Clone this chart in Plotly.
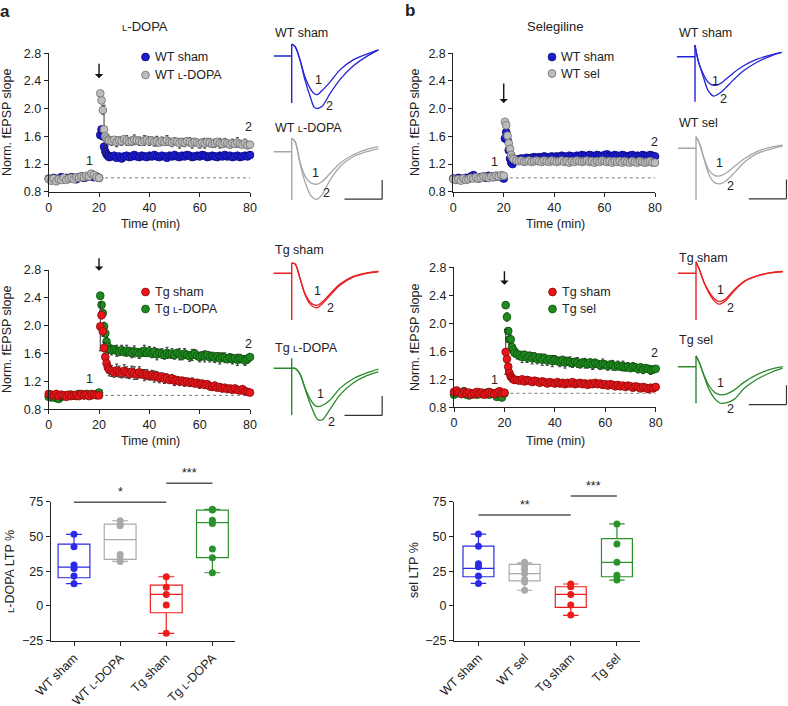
import plotly.graph_objects as go

W, H = 788, 706
FONT = "Liberation Sans, Arial, Helvetica, sans-serif"
TXT = "#222222"
LD = "<span style='font-size:9.5px'>L</span>-DOPA"

# ---------------- colours ----------------
BLUE = ("#1c1cd2", "#0a0a78")
GRAY = ("#bcbcbc", "#6f6f6f")
RED = ("#e8161b", "#8c0a0a")
GREEN = ("#1f8a1f", "#0b4f0b")
BOX_C = ["#2a2ae6", "#a9a9a9", "#ee1d1d", "#2a922a"]
TR_C = {"blue": "#2323d8", "gray": "#a6a6a6", "red": "#e82020", "green": "#2b8a2b"}

# ---------------- time-course data ----------------
T_BASE = list(range(0, 21))
T_POST = [20.5, 21, 21.5, 22, 22.5, 23, 23.5, 24] + list(range(25, 81))

# panel a, WT
A_WT_SHAM_BASE = [0.99, 0.98, 1.00, 0.97, 0.99, 1.01, 0.98, 1.00, 0.99, 1.01, 1.00,
                  0.98, 1.01, 1.02, 1.00, 1.01, 1.03, 1.02, 1.01, 1.02, 1.00]
A_WT_SHAM_POST = [1.62, 1.70, 1.60, 1.45, 1.38, 1.34, 1.32, 1.30,
                  1.31, 1.32, 1.29, 1.31, 1.28, 1.31, 1.32, 1.30,
                  1.31, 1.33, 1.31, 1.30, 1.32, 1.31, 1.30, 1.32,
                  1.31, 1.33, 1.31, 1.30, 1.32, 1.31, 1.29, 1.32,
                  1.31, 1.33, 1.31, 1.30, 1.32, 1.31, 1.33, 1.32,
                  1.30, 1.31, 1.32, 1.31, 1.33, 1.32, 1.30, 1.31,
                  1.32, 1.31, 1.30, 1.32, 1.31, 1.33, 1.31, 1.32,
                  1.30, 1.31, 1.32, 1.30, 1.31, 1.32, 1.31, 1.33]
A_WT_LD_BASE = [0.98, 0.96, 0.99, 0.95, 0.98, 0.97, 1.00, 0.97, 0.99, 1.00, 0.98,
                1.01, 1.00, 1.02, 1.01, 1.03, 1.02, 1.06, 1.04, 1.01, 1.00]
A_WT_LD_POST = [2.22, 2.12, 1.98, 1.70, 1.60, 1.57, 1.55, 1.54,
                1.53, 1.55, 1.52, 1.54, 1.53, 1.56, 1.54, 1.52,
                1.53, 1.55, 1.54, 1.53, 1.52, 1.54, 1.55, 1.53,
                1.54, 1.52, 1.53, 1.51, 1.53, 1.52, 1.54, 1.52,
                1.51, 1.53, 1.52, 1.50, 1.52, 1.51, 1.53, 1.52,
                1.50, 1.52, 1.51, 1.49, 1.51, 1.50, 1.52, 1.51,
                1.49, 1.50, 1.52, 1.50, 1.49, 1.51, 1.50, 1.48,
                1.50, 1.49, 1.51, 1.49, 1.48, 1.50, 1.47, 1.48]
A_WT_LD_ERR = [0.03, 0.05, 0.06, 0.35, 0.06, 0.05, 0.07, 0.06,
               0.06, 0.04, 0.07, 0.05, 0.06, 0.04, 0.07, 0.05,
               0.06, 0.07, 0.04, 0.06, 0.05, 0.07, 0.04, 0.06,
               0.05, 0.06, 0.07, 0.04, 0.06, 0.05, 0.07, 0.04,
               0.06, 0.05, 0.04, 0.07, 0.05, 0.06, 0.04, 0.06,
               0.07, 0.05, 0.04, 0.06, 0.05, 0.07, 0.04, 0.06,
               0.05, 0.06, 0.04, 0.07, 0.05, 0.06, 0.04, 0.05,
               0.06, 0.04, 0.07, 0.05, 0.04, 0.06, 0.05, 0.04]

# panel a, Tg
A_TG_SHAM_BASE = [1.02, 1.01, 1.00, 1.02, 0.99, 1.01, 1.00, 0.98, 1.01, 0.99, 1.00,
                  1.01, 0.99, 1.02, 1.00, 1.01, 0.99, 1.02, 1.01, 1.00, 1.00]
A_TG_SHAM_POST = [1.99, 2.15, 1.92, 1.68, 1.55, 1.46, 1.40, 1.37,
                  1.35, 1.33, 1.36, 1.34, 1.32, 1.35, 1.33, 1.31,
                  1.34, 1.32, 1.30, 1.33, 1.31, 1.29, 1.30, 1.28,
                  1.29, 1.27, 1.28, 1.25, 1.27, 1.24, 1.25, 1.22,
                  1.24, 1.21, 1.22, 1.20, 1.21, 1.19, 1.20, 1.18,
                  1.19, 1.17, 1.18, 1.16, 1.17, 1.15, 1.16, 1.13,
                  1.12, 1.14, 1.11, 1.12, 1.10, 1.11, 1.09, 1.10,
                  1.08, 1.10, 1.08, 1.07, 1.09, 1.06, 1.05, 1.04]
A_TG_SHAM_ERR = [0.35, 0.05, 0.07, 0.08, 0.09, 0.07, 0.08, 0.09,
                 0.08, 0.07, 0.09, 0.08, 0.07, 0.09, 0.08, 0.07,
                 0.08, 0.09, 0.07, 0.08, 0.06, 0.08, 0.07, 0.06,
                 0.07, 0.08, 0.06, 0.07, 0.05, 0.07, 0.06, 0.05,
                 0.06, 0.07, 0.05, 0.06, 0.05, 0.06, 0.04, 0.05,
                 0.06, 0.04, 0.05, 0.06, 0.04, 0.05, 0.04, 0.05,
                 0.04, 0.05, 0.04, 0.03, 0.05, 0.04, 0.03, 0.04,
                 0.05, 0.03, 0.04, 0.03, 0.04, 0.03, 0.04, 0.03]
A_TG_LD_BASE = [0.98, 0.97, 0.99, 0.96, 0.95, 0.98, 0.99, 1.00, 0.99, 1.01, 1.00,
                0.99, 1.02, 1.01, 1.00, 1.02, 1.01, 1.00, 1.01, 1.02, 1.04]
A_TG_LD_POST = [2.43, 2.30, 2.18, 1.99, 1.89, 1.77, 1.70, 1.66,
                1.65, 1.66, 1.64, 1.63, 1.65, 1.62, 1.64, 1.63,
                1.61, 1.63, 1.62, 1.60, 1.62, 1.64, 1.61, 1.63,
                1.60, 1.62, 1.59, 1.61, 1.60, 1.58, 1.61, 1.59,
                1.60, 1.58, 1.61, 1.59, 1.57, 1.60, 1.58, 1.56,
                1.58, 1.60, 1.57, 1.55, 1.57, 1.56, 1.58, 1.55,
                1.56, 1.54, 1.56, 1.53, 1.55, 1.54, 1.52, 1.54,
                1.52, 1.53, 1.51, 1.53, 1.52, 1.50, 1.52, 1.55]
A_TG_LD_ERR = [0.05, 0.04, 0.05, 0.06, 0.05, 0.06, 0.07, 0.06,
               0.07, 0.05, 0.08, 0.06, 0.07, 0.05, 0.08, 0.06,
               0.07, 0.08, 0.05, 0.07, 0.06, 0.08, 0.05, 0.07,
               0.06, 0.07, 0.08, 0.05, 0.07, 0.06, 0.08, 0.05,
               0.07, 0.06, 0.05, 0.08, 0.06, 0.07, 0.05, 0.07,
               0.08, 0.06, 0.05, 0.07, 0.06, 0.08, 0.05, 0.07,
               0.06, 0.07, 0.05, 0.08, 0.06, 0.07, 0.05, 0.06,
               0.07, 0.05, 0.08, 0.06, 0.05, 0.07, 0.06, 0.05]

# panel b, WT
B_WT_SHAM_BASE = [0.99, 0.98, 1.00, 0.98, 0.99, 1.00, 0.99, 1.02, 1.04, 1.00, 0.99,
                  1.01, 1.02, 1.00, 1.03, 1.02, 1.01, 1.03, 1.02, 1.01, 0.99]
B_WT_SHAM_POST = [1.57, 1.66, 1.55, 1.40, 1.28, 1.22, 1.20, 1.24,
                  1.26, 1.27, 1.28, 1.27, 1.29, 1.28, 1.29, 1.30,
                  1.29, 1.30, 1.29, 1.31, 1.30, 1.29, 1.31, 1.30,
                  1.31, 1.30, 1.32, 1.31, 1.30, 1.32, 1.31, 1.30,
                  1.32, 1.31, 1.33, 1.32, 1.31, 1.33, 1.32, 1.31,
                  1.33, 1.32, 1.31, 1.33, 1.34, 1.32, 1.31, 1.33,
                  1.32, 1.31, 1.33, 1.32, 1.31, 1.32, 1.33, 1.31,
                  1.32, 1.31, 1.33, 1.32, 1.31, 1.33, 1.32, 1.31]
B_WT_SEL_BASE = [0.98, 0.97, 0.98, 0.96, 0.99, 0.97, 0.98, 1.00, 0.99, 1.01, 0.99,
                 1.00, 1.02, 1.01, 1.00, 1.02, 1.01, 1.03, 1.02, 1.04, 1.03]
B_WT_SEL_POST = [1.81, 1.76, 1.61, 1.50, 1.42, 1.33, 1.29, 1.27,
                 1.25, 1.24, 1.25, 1.23, 1.24, 1.25, 1.23, 1.24,
                 1.25, 1.24, 1.23, 1.25, 1.24, 1.23, 1.25, 1.24,
                 1.23, 1.24, 1.25, 1.23, 1.24, 1.22, 1.24, 1.23,
                 1.25, 1.24, 1.23, 1.24, 1.25, 1.23, 1.24, 1.22,
                 1.24, 1.23, 1.25, 1.24, 1.23, 1.24, 1.22, 1.24,
                 1.23, 1.24, 1.22, 1.24, 1.23, 1.22, 1.24, 1.23,
                 1.22, 1.24, 1.23, 1.22, 1.23, 1.24, 1.22, 1.22]

# panel b, Tg
B_TG_SHAM_BASE = [1.02, 1.04, 1.01, 0.99, 1.02, 1.00, 1.01, 0.98, 1.00, 1.02, 0.99,
                  1.01, 0.98, 1.00, 1.02, 1.00, 0.99, 1.01, 1.03, 1.00, 1.01]
B_TG_SHAM_POST = [1.59, 1.49, 1.38, 1.29, 1.24, 1.22, 1.20, 1.19,
                  1.19, 1.18, 1.20, 1.17, 1.19, 1.18, 1.16, 1.18,
                  1.17, 1.15, 1.17, 1.16, 1.14, 1.16, 1.15, 1.14,
                  1.16, 1.14, 1.15, 1.13, 1.15, 1.14, 1.16, 1.13,
                  1.14, 1.15, 1.13, 1.14, 1.12, 1.14, 1.13, 1.15,
                  1.13, 1.14, 1.12, 1.13, 1.11, 1.13, 1.12, 1.10,
                  1.12, 1.10, 1.11, 1.09, 1.11, 1.10, 1.08, 1.10,
                  1.09, 1.07, 1.09, 1.08, 1.06, 1.08, 1.07, 1.09]
B_TG_SHAM_ERR = [0.32, 0.04, 0.03, 0.04, 0.03, 0.04, 0.03, 0.04,
                 0.03, 0.04, 0.03, 0.03, 0.04, 0.03, 0.03, 0.04,
                 0.04, 0.03, 0.04, 0.03, 0.03, 0.04, 0.03, 0.03,
                 0.03, 0.04, 0.03, 0.04, 0.03, 0.03, 0.04, 0.03,
                 0.04, 0.03, 0.03, 0.04, 0.03, 0.04, 0.03, 0.03,
                 0.03, 0.04, 0.03, 0.03, 0.04, 0.03, 0.03, 0.04,
                 0.04, 0.03, 0.04, 0.03, 0.03, 0.04, 0.03, 0.03,
                 0.03, 0.04, 0.03, 0.03, 0.04, 0.03, 0.04, 0.03]
B_TG_SEL_BASE = [0.98, 1.00, 1.01, 0.99, 1.03, 0.98, 0.97, 0.99, 1.00, 0.98, 1.01,
                 0.99, 1.00, 1.01, 0.98, 1.00, 0.99, 0.95, 0.98, 0.94, 1.00]
B_TG_SEL_POST = [2.26, 2.09, 1.89, 1.77, 1.77, 1.66, 1.62, 1.58,
                 1.56, 1.54, 1.52, 1.55, 1.51, 1.53, 1.50, 1.52,
                 1.49, 1.51, 1.48, 1.50, 1.47, 1.49, 1.46, 1.48,
                 1.46, 1.45, 1.47, 1.44, 1.46, 1.45, 1.43, 1.45,
                 1.44, 1.42, 1.44, 1.43, 1.42, 1.44, 1.41, 1.43,
                 1.42, 1.40, 1.42, 1.41, 1.39, 1.41, 1.40, 1.38,
                 1.40, 1.38, 1.39, 1.37, 1.38, 1.36, 1.38, 1.37,
                 1.35, 1.37, 1.34, 1.36, 1.35, 1.33, 1.34, 1.35]
B_TG_SEL_ERR = [0.05, 0.06, 0.05, 0.07, 0.06, 0.08, 0.07, 0.06,
                0.07, 0.06, 0.08, 0.05, 0.07, 0.06, 0.08, 0.06,
                0.07, 0.05, 0.08, 0.06, 0.07, 0.05, 0.08, 0.06,
                0.05, 0.07, 0.06, 0.08, 0.05, 0.07, 0.06, 0.05,
                0.07, 0.06, 0.05, 0.07, 0.06, 0.05, 0.07, 0.06,
                0.05, 0.06, 0.07, 0.05, 0.06, 0.05, 0.07, 0.05,
                0.06, 0.05, 0.07, 0.05, 0.06, 0.05, 0.06, 0.05,
                0.06, 0.05, 0.06, 0.04, 0.05, 0.06, 0.05, 0.04]

TIME_TICKS = [0, 20, 40, 60, 80]
SLOPE_TICKS = [0.8, 1.2, 1.6, 2.0, 2.4, 2.8]
SLOPE_LABELS = ["0.8", "1.2", "1.6", "2.0", "2.4", "2.8"]

# ---------------- box-plot data ----------------
LD_CATS = ["WT sham", "WT " + LD, "Tg sham", "Tg " + LD]
LD_Q1 = [20.3, 33.5, -4.9, 34.7]
LD_MED = [28.0, 47.7, 8.3, 60.0]
LD_Q3 = [44.5, 58.9, 15.0, 69.0]
LD_LO = [16.0, 32.0, -19.7, 23.9]
LD_HI = [51.5, 61.3, 21.0, 69.5]
LD_PTS = [[51.5, 42.6, 29.4, 27.0, 21.5, 16.0],
          [61.3, 59.0, 57.7, 37.0, 34.0, 32.0],
          [21.0, 13.4, 8.3, 0.7, -19.7],
          [69.5, 69.0, 61.6, 59.4, 41.0, 34.7, 23.9]]

SEL_CATS = ["WT sham", "WT sel", "Tg sham", "Tg sel"]
SEL_Q1 = [21.0, 18.0, -1.0, 21.0]
SEL_MED = [27.0, 23.3, 8.3, 31.4]
SEL_Q3 = [43.0, 29.9, 13.8, 48.4]
SEL_LO = [16.2, 11.3, -6.8, 18.6]
SEL_HI = [51.7, 31.0, 15.8, 59.0]
SEL_PTS = [[51.7, 43.0, 30.3, 28.2, 21.5, 16.2],
           [31.5, 29.3, 26.4, 23.3, 19.0, 17.3, 11.3],
           [15.8, 13.8, 8.3, 0.7, -6.5],
           [59.0, 44.5, 31.4, 22.0, 18.6]]
LTP_TICKS = [-25, 0, 25, 50, 75]

# ---------------- example fEPSP traces (ms, mV) ----------------
TR_T = [0, 0.9, 2.2, 3.5, 4.9, 6.0, 6.8, 8.0, 10.2, 12.8, 16.3, 19.9, 23.0]
TR_BASE_T = [-4.8, 0, 0, 0]

TR_A_WT_SHAM_ART = [-1.22, 0.31]
TR_A_WT_SHAM_1 = [0.31, 0.24, -0.10, -0.54, -0.84, -0.98, -1.00, -0.90, -0.67, -0.36, -0.10, 0.05, 0.16]
TR_A_WT_SHAM_2 = [0.31, 0.24, -0.10, -0.62, -1.05, -1.33, -1.36, -1.31, -0.97, -0.61, -0.26, -0.01, 0.16]
TR_A_WT_LD_ART = [-1.25, 0.35]
TR_A_WT_LD_1 = [0.35, 0.26, -0.27, -0.62, -0.80, -0.84, -0.84, -0.78, -0.56, -0.30, -0.08, 0.06, 0.13]
TR_A_WT_LD_2 = [0.35, 0.26, -0.30, -0.77, -1.11, -1.22, -1.23, -1.12, -0.73, -0.39, -0.13, 0.00, 0.08]
TR_A_TG_SHAM_ART = [-1.21, 0.27]
TR_A_TG_SHAM_1 = [0.27, 0.24, -0.13, -0.52, -0.75, -0.82, -0.83, -0.75, -0.53, -0.28, -0.08, 0.01, 0.05]
TR_A_TG_SHAM_2 = [0.27, 0.24, -0.13, -0.54, -0.80, -0.88, -0.89, -0.80, -0.57, -0.31, -0.10, 0.00, 0.04]
TR_A_TG_LD_ART = [-1.21, 0.26]
TR_A_TG_LD_1 = [0.0, 0.0, -0.15, -0.50, -0.80, -0.95, -0.99, -0.97, -0.82, -0.52, -0.27, -0.12, -0.02]
TR_A_TG_LD_2 = [0.0, 0.0, -0.15, -0.52, -0.92, -1.18, -1.32, -1.34, -1.06, -0.69, -0.38, -0.19, -0.09]

TR_B_WT_SHAM_ART = [-1.17, 0.30]
TR_B_WT_SHAM_1 = [0.30, -0.12, -0.45, -0.66, -0.74, -0.73, -0.69, -0.60, -0.42, -0.24, -0.07, 0.04, 0.11]
TR_B_WT_SHAM_2 = [0.30, -0.12, -0.52, -0.88, -1.02, -0.98, -0.93, -0.82, -0.60, -0.37, -0.15, 0.01, 0.11]
TR_B_WT_SEL_ART = [-1.34, 0.30]
TR_B_WT_SEL_1 = [0.30, 0.13, -0.28, -0.58, -0.70, -0.72, -0.70, -0.64, -0.47, -0.27, -0.08, 0.03, 0.08]
TR_B_WT_SEL_2 = [0.30, 0.13, -0.30, -0.69, -0.89, -0.92, -0.91, -0.84, -0.63, -0.36, -0.13, -0.02, 0.06]
TR_B_TG_SHAM_ART = [-1.21, 0.30]
TR_B_TG_SHAM_1 = [0.30, 0.10, -0.25, -0.48, -0.66, -0.73, -0.72, -0.65, -0.42, -0.20, -0.06, 0.02, 0.05]
TR_B_TG_SHAM_2 = [0.30, 0.10, -0.26, -0.52, -0.72, -0.80, -0.78, -0.70, -0.45, -0.22, -0.07, 0.01, 0.04]
TR_B_TG_SEL_ART = [-0.95, 0.28]
TR_B_TG_SEL_1 = [0.28, 0.10, -0.24, -0.50, -0.66, -0.72, -0.73, -0.71, -0.60, -0.40, -0.20, -0.06, 0.00]
TR_B_TG_SEL_2 = [0.28, 0.10, -0.26, -0.60, -0.82, -0.92, -0.95, -0.94, -0.84, -0.56, -0.32, -0.15, -0.04]

SCALE_MS, SCALE_MV = 10, 0.5

for lst in [A_WT_SHAM_POST, A_WT_LD_POST, A_WT_LD_ERR, A_TG_SHAM_POST, A_TG_SHAM_ERR,
            A_TG_LD_POST, A_TG_LD_ERR, B_WT_SHAM_POST, B_WT_SEL_POST, B_TG_SHAM_POST,
            B_TG_SHAM_ERR, B_TG_SEL_POST, B_TG_SEL_ERR]:
    assert len(lst) == len(T_POST), len(lst)

# =====================================================================
fig = go.Figure()
fig.update_layout(template="none")
annotations, shapes = [], []


def sfx(n):
    return "" if n == 1 else str(n)


def P(xpx, ypx):
    return xpx / W, 1 - ypx / H


def label(t, xpx, ypx, size=12.5, xanchor="center", yanchor="middle", angle=0, bold=False):
    x, y = P(xpx, ypx)
    annotations.append(dict(text=f"<b>{t}</b>" if bold else t, x=x, y=y, xref="paper", yref="paper",
                            showarrow=False, xanchor=xanchor, yanchor=yanchor, textangle=angle,
                            font=dict(size=size, color=TXT, family=FONT)))


def set_axes(n, box, xa, ya):
    x0, x1, y0, y1 = box
    xa.update(domain=[x0 / W, x1 / W], anchor="y" + sfx(n), automargin=False)
    ya.update(domain=[1 - y1 / H, 1 - y0 / H], anchor="x" + sfx(n), automargin=False)
    fig.update_layout({"xaxis" + sfx(n): xa, "yaxis" + sfx(n): ya})


AX_STYLE = dict(showline=True, linecolor="#222", linewidth=1, ticks="outside", ticklen=4,
                tickcolor="#222", tickwidth=1, showgrid=False, zeroline=False,
                tickfont=dict(size=12.5, color=TXT, family=FONT), fixedrange=True)

# ---------------- time-course panels ----------------
TIME_PANELS = [
    dict(n=1, box=(48.7, 250.0, 53.3, 191.7), arrow=(2.44, 16),
         series=[(A_WT_SHAM_BASE, A_WT_SHAM_POST, None, BLUE), (A_WT_LD_BASE, A_WT_LD_POST, A_WT_LD_ERR, GRAY)]),
    dict(n=2, box=(48.7, 250.0, 270.0, 409.3), arrow=(2.79, 14),
         series=[(A_TG_LD_BASE, A_TG_LD_POST, A_TG_LD_ERR, GREEN), (A_TG_SHAM_BASE, A_TG_SHAM_POST, A_TG_SHAM_ERR, RED)]),
    dict(n=3, box=(453.3, 655.0, 53.3, 191.7), arrow=(2.08, 21),
         series=[(B_WT_SHAM_BASE, B_WT_SHAM_POST, None, BLUE), (B_WT_SEL_BASE, B_WT_SEL_POST, None, GRAY)]),
    dict(n=4, box=(454.0, 655.7, 267.3, 407.3), arrow=(2.55, 15),
         series=[(B_TG_SEL_BASE, B_TG_SEL_POST, B_TG_SEL_ERR, GREEN), (B_TG_SHAM_BASE, B_TG_SHAM_POST, B_TG_SHAM_ERR, RED)]),
]

for pan in TIME_PANELS:
    n = pan["n"]
    s = sfx(n)
    set_axes(n, pan["box"],
             dict(range=[0, 80], tickvals=TIME_TICKS, **AX_STYLE),
             dict(range=[0.8, 2.8], tickvals=SLOPE_TICKS, ticktext=SLOPE_LABELS, **AX_STYLE))
    shapes.append(dict(type="line", xref="x" + s, yref="y" + s, x0=20, x1=80, y0=1.0, y1=1.0,
                       line=dict(color="#7a7a7a", width=1, dash="dot"), layer="below"))
    for base, post, err, (fill, edge) in pan["series"]:
        kw = {}
        if err is not None:
            kw["error_y"] = dict(type="data", array=[0] * len(base) + err, color="#333",
                                 thickness=1, width=1.5)
        fig.add_trace(go.Scatter(x=T_BASE + T_POST, y=base + post, mode="markers",
                                 marker=dict(size=7.8, color=fill, line=dict(color=edge, width=0.8)),
                                 cliponaxis=False, xaxis="x" + s, yaxis="y" + s, showlegend=False,
                                 hoverinfo="skip", **kw))
    tip, length = pan["arrow"]
    annotations.append(dict(x=20, y=tip, xref="x" + s, yref="y" + s, text="", showarrow=True,
                            ax=0, ay=-length, arrowhead=1, arrowsize=1.0, arrowwidth=1.4,
                            arrowcolor="#111"))

# ---------------- box panels ----------------
BOX_PANELS = [
    dict(n=5, box=(50.7, 235.0, 501.7, 640.7), xr=[-0.505, 3.49], cats=LD_CATS,
         stats=(LD_Q1, LD_MED, LD_Q3, LD_LO, LD_HI), pts=LD_PTS, width=0.69,
         sig=[(0, 2, 74.6, "*"), (2, 3, 88.2, "***")]),
    dict(n=6, box=(454.0, 640.0, 501.7, 640.7), xr=[-0.53, 3.5], cats=SEL_CATS,
         stats=(SEL_Q1, SEL_MED, SEL_Q3, SEL_LO, SEL_HI), pts=SEL_PTS, width=0.67,
         sig=[(0, 2, 65.4, "**"), (2, 3, 79.1, "***")]),
]

for pan in BOX_PANELS:
    n = pan["n"]
    s = sfx(n)
    set_axes(n, pan["box"],
             dict(range=pan["xr"], tickvals=[0, 1, 2, 3], ticktext=pan["cats"], tickangle=-45, **AX_STYLE),
             dict(range=[-25, 75], tickvals=LTP_TICKS, **AX_STYLE))
    q1, med, q3, lo, hi = pan["stats"]
    for i in range(4):
        fig.add_trace(go.Box(x=[i], q1=[q1[i]], median=[med[i]], q3=[q3[i]], lowerfence=[lo[i]],
                             upperfence=[hi[i]], width=pan["width"], whiskerwidth=0.5,
                             line=dict(color=BOX_C[i], width=1.2), fillcolor="rgba(255,255,255,0)",
                             boxpoints=False, xaxis="x" + s, yaxis="y" + s, showlegend=False,
                             hoverinfo="skip"))
        fig.add_trace(go.Scatter(x=[i] * len(pan["pts"][i]), y=pan["pts"][i], mode="markers",
                                 marker=dict(size=7, color=BOX_C[i]), cliponaxis=False,
                                 xaxis="x" + s, yaxis="y" + s, showlegend=False, hoverinfo="skip"))
    x0p, x1p, y0p, y1p = pan["box"]
    r0, r1 = pan["xr"]

    def cx(c):
        return x0p + (c - r0) / (r1 - r0) * (x1p - x0p)

    def vy(v):
        return y0p + (75 - v) / 100 * (y1p - y0p)

    for a, b, v, star in pan["sig"]:
        xa_, ya_ = P(cx(a), vy(v))
        xb_, _ = P(cx(b), vy(v))
        shapes.append(dict(type="line", xref="paper", yref="paper", x0=xa_, x1=xb_, y0=ya_, y1=ya_,
                           line=dict(color="#555", width=1.5)))
        label(star, (cx(a) + cx(b)) / 2, vy(v) - 1, size=12.5, yanchor="bottom")

# ---------------- example traces ----------------
PX_MS, PX_MV = 3.77, 38.6
TR_XR, TR_YR = [-5.5, 24.3], [-1.6, 0.5]
TRACE_PANELS = [
    dict(n=7, org=(291.7, 56.0), art=TR_A_WT_SHAM_ART, c=(TR_A_WT_SHAM_1, TR_A_WT_SHAM_2), col="blue", bar=None),
    dict(n=8, org=(291.7, 151.7), art=TR_A_WT_LD_ART, c=(TR_A_WT_LD_1, TR_A_WT_LD_2), col="gray", bar=-1.23),
    dict(n=9, org=(291.7, 273.3), art=TR_A_TG_SHAM_ART, c=(TR_A_TG_SHAM_1, TR_A_TG_SHAM_2), col="red", bar=None),
    dict(n=10, org=(291.7, 368.3), art=TR_A_TG_LD_ART, c=(TR_A_TG_LD_1, TR_A_TG_LD_2), col="green", bar=-1.22),
    dict(n=11, org=(695.0, 56.7), art=TR_B_WT_SHAM_ART, c=(TR_B_WT_SHAM_1, TR_B_WT_SHAM_2), col="blue", bar=None),
    dict(n=12, org=(696.0, 148.3), art=TR_B_WT_SEL_ART, c=(TR_B_WT_SEL_1, TR_B_WT_SEL_2), col="gray", bar=-1.31),
    dict(n=13, org=(696.0, 273.3), art=TR_B_TG_SHAM_ART, c=(TR_B_TG_SHAM_1, TR_B_TG_SHAM_2), col="red", bar=None),
    dict(n=14, org=(696.0, 366.7), art=TR_B_TG_SEL_ART, c=(TR_B_TG_SEL_1, TR_B_TG_SEL_2), col="green", bar=-0.98),
]
for pan in TRACE_PANELS:
    n = pan["n"]
    s = sfx(n)
    ox, oy = pan["org"]
    box = (ox + TR_XR[0] * PX_MS, ox + TR_XR[1] * PX_MS, oy - TR_YR[1] * PX_MV, oy - TR_YR[0] * PX_MV)
    set_axes(n, box, dict(range=TR_XR, visible=False, fixedrange=True),
             dict(range=TR_YR, visible=False, fixedrange=True))
    col = TR_C[pan["col"]]
    bot, top = pan["art"]
    fig.add_trace(go.Scatter(x=TR_BASE_T, y=[0, 0, bot, top], mode="lines",
                             line=dict(color=col, width=1.4), xaxis="x" + s, yaxis="y" + s,
                             showlegend=False, hoverinfo="skip"))
    for cur in pan["c"]:
        fig.add_trace(go.Scatter(x=TR_T, y=cur, mode="lines", line=dict(color=col, width=1.3, shape="spline"),
                                 xaxis="x" + s, yaxis="y" + s, showlegend=False, hoverinfo="skip"))
    if pan["bar"] is not None:
        yb = pan["bar"]
        xe = 24.0
        shapes.append(dict(type="line", xref="x" + s, yref="y" + s, x0=xe, x1=xe, y0=yb, y1=yb + SCALE_MV,
                           line=dict(color="#333", width=1.2)))
        shapes.append(dict(type="line", xref="x" + s, yref="y" + s, x0=xe - SCALE_MS, x1=xe, y0=yb, y1=yb,
                           line=dict(color="#333", width=1.2)))

# ---------------- texts ----------------
label("a", 5, 12, size=17, bold=True)
label("b", 410, 11, size=17, bold=True)
label(LD, 145, 27, size=13)
label("Selegiline", 555, 27, size=13)

for xpx, ypx in [(7, 122), (7, 339), (415, 122), (415, 337)]:
    label("Norm. fEPSP slope", xpx, ypx, angle=-90)
for xpx, ypx in [(150, 224), (150, 441), (555, 224), (555, 441)]:
    label("Time (min)", xpx, ypx)
label(LD + " LTP %", 10, 572, angle=-90)
label("sel LTP %", 414, 570, angle=-90)

for xpx, ypx, t in [(89, 161, "1"), (249, 127, "2"), (89, 379, "1"), (249, 344, "2"),
                    (494, 162, "1"), (654, 142, "2"), (494, 380, "1"), (654, 353, "2")]:
    label(t, xpx, ypx)

LEGENDS = [
    (145.5, 57, BLUE, "WT sham"), (145.5, 75, GRAY, "WT " + LD),
    (145.5, 292, RED, "Tg sham"), (145.5, 309, GREEN, "Tg " + LD),
    (552, 57, BLUE, "WT sham"), (552, 73.5, GRAY, "WT sel"),
    (552.5, 292, RED, "Tg sham"), (552.5, 309, GREEN, "Tg sel"),
]
for cxp, cyp, (fill, edge), t in LEGENDS:
    r = 3.9
    xa_, ya_ = P(cxp - r, cyp + r)
    xb_, yb_ = P(cxp + r, cyp - r)
    shapes.append(dict(type="circle", xref="paper", yref="paper", x0=xa_, x1=xb_, y0=ya_, y1=yb_,
                       fillcolor=fill, line=dict(color=edge, width=0.8)))
    label(t, cxp + 7, cyp, xanchor="left")

for xpx, ypx, t in [(273, 33, "WT sham"), (273, 128, "WT " + LD), (273, 250, "Tg sham"), (273, 348, "Tg " + LD),
                    (677, 33, "WT sham"), (677, 123, "WT sel"), (677, 258, "Tg sham"), (677, 340, "Tg sel")]:
    label(t, xpx, ypx, xanchor="left")
for xpx, ypx, t in [(318.3, 80, "1"), (329.3, 106, "2"), (315, 172.7, "1"), (326.7, 193.3, "2"),
                    (317.3, 290.7, "1"), (330, 307.7, "2"), (320, 394, "1"), (331, 421.7, "2"),
                    (715, 80.7, "1"), (723.3, 99.3, "2"), (719.3, 163.3, "1"), (730.7, 186, "2"),
                    (720.7, 290, "1"), (730.7, 308.3, "2"), (720.7, 383.3, "1"), (730.7, 409.3, "2")]:
    label(t, xpx, ypx)

fig.update_layout(width=W, height=H, margin=dict(l=0, r=0, t=0, b=0, autoexpand=False),
                  paper_bgcolor="white", plot_bgcolor="white", showlegend=False,
                  annotations=annotations, shapes=shapes,
                  font=dict(family=FONT, size=12.5, color=TXT))
fig.write_html("out.html", config={"displayModeBar": False},
               post_script="document.body.style.margin='0px';document.body.style.overflow='hidden';")
